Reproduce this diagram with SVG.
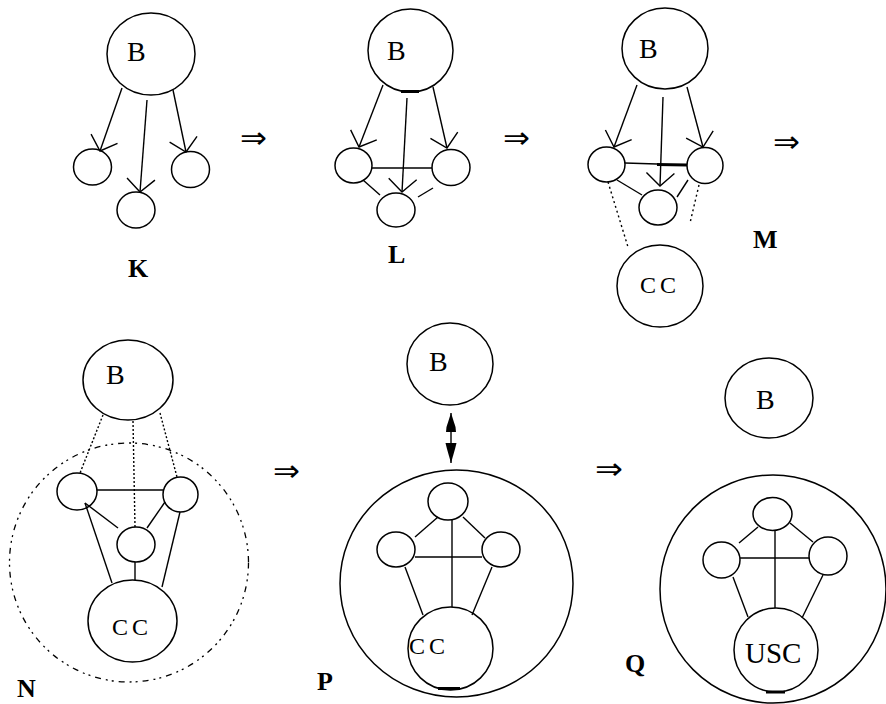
<svg xmlns="http://www.w3.org/2000/svg" width="886" height="704" viewBox="0 0 886 704">
  <style>
    .node { fill: none; stroke: #000; stroke-width: 1.5; }
    .edge { fill: none; stroke: #000; stroke-width: 1.4; }
    .heavy { fill: none; stroke: #000; stroke-width: 3; }
    .dot { fill: none; stroke: #000; stroke-width: 1.4; stroke-dasharray: 2 3; }
    .dashdot { fill: none; stroke: #000; stroke-width: 1.3; stroke-dasharray: 6 5 2 4 2 5; }
    .name { font-family: "Liberation Serif", "Times New Roman", serif; font-size: 28px; fill: #000; }
    .pair { font-size: 24px; letter-spacing: 4px; }
    .panel { font-family: "Liberation Serif", "Times New Roman", serif; font-size: 26px; font-weight: bold; fill: #000; }
    .step { font-family: "DejaVu Sans", sans-serif; font-size: 30px; fill: #000; }
  </style>
  <defs>
    <marker id="vee" viewBox="-15 -16 17 32" markerWidth="17" markerHeight="32" refX="0" refY="0" orient="auto" markerUnits="userSpaceOnUse">
      <path d="M -13,-14 L 0,0 L -13,14" fill="none" stroke="#000" stroke-width="1.4"/>
    </marker>
  </defs>

  <!-- ===== K ===== -->
  <g id="k-B"><ellipse class="node" cx="151" cy="54" rx="44" ry="41"/><text class="name" x="127" y="61">B</text></g>
  <g id="k-v1"><ellipse class="node" cx="92.5" cy="167" rx="19" ry="18"/></g>
  <g id="k-v2"><ellipse class="node" cx="190.5" cy="169.5" rx="19" ry="18"/></g>
  <g id="k-v3"><ellipse class="node" cx="136" cy="210" rx="19" ry="18"/></g>
  <text id="k-label" class="panel" x="128" y="277">K</text>

  <!-- ===== L ===== -->
  <g id="l-B"><ellipse class="node" cx="410.5" cy="50.5" rx="42.5" ry="41.5"/><text class="name" x="387" y="60">B</text>
    <line class="heavy" x1="401" y1="91.5" x2="419" y2="91.5"/></g>
  <g id="l-v1"><ellipse class="node" cx="353.5" cy="165.5" rx="18.5" ry="17.5"/></g>
  <g id="l-v2"><ellipse class="node" cx="451" cy="167.5" rx="19" ry="18"/></g>
  <g id="l-v3"><ellipse class="node" cx="396" cy="210" rx="19" ry="17"/></g>
  <text id="l-label" class="panel" x="388" y="263">L</text>

  <!-- ===== M ===== -->
  <g id="m-B"><ellipse class="node" cx="665" cy="48.5" rx="43" ry="40.5"/><text class="name" x="639" y="58">B</text></g>
  <g id="m-v1"><ellipse class="node" cx="606.5" cy="164.5" rx="18.5" ry="17.5"/></g>
  <g id="m-v2"><ellipse class="node" cx="705" cy="165.5" rx="18" ry="18"/></g>
  <g id="m-v3"><ellipse class="node" cx="658" cy="207.5" rx="19" ry="17.5"/></g>
  <g id="m-CC"><ellipse class="node" cx="660" cy="286" rx="43" ry="41"/><text class="name pair" x="640" y="293">CC</text></g>
  <text id="m-label" class="panel" x="753" y="248">M</text>

  <!-- ===== N ===== -->
  <g id="n-cluster"><circle class="dashdot" cx="129" cy="562.5" r="119.5"/></g>
  <g id="n-B"><ellipse class="node" cx="128" cy="380" rx="45" ry="40"/><text class="name" x="106" y="384">B</text></g>
  <g id="n-v1"><ellipse class="node" cx="77" cy="491.5" rx="20" ry="18.5"/></g>
  <g id="n-v2"><ellipse class="node" cx="180.5" cy="494.5" rx="17.5" ry="17.5"/></g>
  <g id="n-v3"><ellipse class="node" cx="136" cy="544.5" rx="19" ry="17.5"/></g>
  <g id="n-CC"><ellipse class="node" cx="132.5" cy="621" rx="44.5" ry="41"/><text class="name pair" x="112" y="635">CC</text></g>
  <text id="n-label" class="panel" x="17" y="697">N</text>

  <!-- ===== P ===== -->
  <g id="p-B"><ellipse class="node" cx="450" cy="364" rx="43" ry="41"/><text class="name" x="429" y="371">B</text></g>
  <g id="p-cluster"><ellipse class="node" cx="456.5" cy="583.5" rx="116.5" ry="113.5"/>
    <line class="heavy" x1="438" y1="688.5" x2="460" y2="688.5"/></g>
  <g id="p-v1"><ellipse class="node" cx="448" cy="501.5" rx="20" ry="18.5"/></g>
  <g id="p-v2"><ellipse class="node" cx="396" cy="549.5" rx="19" ry="17.5"/></g>
  <g id="p-v3"><ellipse class="node" cx="501" cy="549.5" rx="19" ry="17.5"/></g>
  <g id="p-CC"><ellipse class="node" cx="450.5" cy="648.5" rx="42.5" ry="41.5"/><text class="name pair" x="409" y="654">CC</text></g>
  <text id="p-label" class="panel" x="317" y="690">P</text>

  <!-- ===== Q ===== -->
  <g id="q-B"><ellipse class="node" cx="769" cy="398" rx="44" ry="40"/><text class="name" x="756" y="409">B</text></g>
  <g id="q-cluster"><ellipse class="node" cx="773" cy="589" rx="113" ry="114"/></g>
  <g id="q-v1"><ellipse class="node" cx="772.5" cy="514" rx="19.5" ry="16.5"/></g>
  <g id="q-v2"><ellipse class="node" cx="721.5" cy="560" rx="18.5" ry="18"/></g>
  <g id="q-v3"><ellipse class="node" cx="828" cy="556" rx="19" ry="19"/></g>
  <g id="q-USC"><ellipse class="node" cx="776" cy="650" rx="42" ry="42"/><text class="name" x="745" y="663" style="font-size:29px">USC</text>
    <line class="heavy" x1="766" y1="692" x2="785" y2="692"/></g>
  <text id="q-label" class="panel" x="625" y="672">Q</text>

  <!-- step arrows between stages -->
  <g id="steps">
    <text class="step" x="240" y="148" textLength="27" lengthAdjust="spacingAndGlyphs">⇒</text>
    <text class="step" x="503" y="148" textLength="27" lengthAdjust="spacingAndGlyphs">⇒</text>
    <text class="step" x="773" y="152" textLength="27" lengthAdjust="spacingAndGlyphs">⇒</text>
    <text class="step" x="273" y="481" textLength="27" lengthAdjust="spacingAndGlyphs">⇒</text>
    <text class="step" x="595" y="479" textLength="28" lengthAdjust="spacingAndGlyphs">⇒</text>
  </g>

  <g id="connectors">
    <!-- K -->
    <line class="edge" x1="122" y1="88" x2="100" y2="151" marker-end="url(#vee)"/>
    <line class="edge" x1="147" y1="100" x2="140" y2="192" marker-end="url(#vee)"/>
    <line class="edge" x1="173" y1="90" x2="186" y2="152" marker-end="url(#vee)"/>
    <!-- L -->
    <line class="edge" x1="383" y1="85" x2="359" y2="147" marker-end="url(#vee)"/>
    <line class="edge" x1="407" y1="98" x2="402" y2="192" marker-end="url(#vee)"/>
    <line class="edge" x1="433" y1="87" x2="447" y2="148" marker-end="url(#vee)"/>
    <line class="edge" x1="372" y1="168" x2="432" y2="168"/>
    <line class="edge" x1="363" y1="180" x2="380" y2="195"/>
    <line class="edge" x1="433" y1="188" x2="418" y2="197"/>
    <!-- M -->
    <line class="edge" x1="637" y1="85" x2="614" y2="147" marker-end="url(#vee)"/>
    <line class="edge" x1="663" y1="97" x2="660" y2="186" marker-end="url(#vee)"/>
    <line class="edge" x1="687" y1="87" x2="703" y2="147" marker-end="url(#vee)"/>
    <line class="edge" x1="625" y1="163" x2="657" y2="164"/>
    <line class="heavy" x1="657" y1="164.5" x2="687" y2="165"/>
    <line class="edge" x1="617" y1="180" x2="642" y2="195"/>
    <line class="edge" x1="688" y1="180" x2="677" y2="197"/>
    <line class="dot" x1="608" y1="182" x2="628" y2="247"/>
    <line class="dot" x1="699" y1="185" x2="690" y2="223"/>
    <!-- N -->
    <line class="dot" x1="103" y1="415" x2="80" y2="473" style="stroke-dasharray:2 2"/>
    <line class="dot" x1="133" y1="421" x2="135" y2="527" style="stroke-dasharray:2 2"/>
    <line class="dot" x1="160" y1="413" x2="177" y2="477" style="stroke-dasharray:2 2"/>
    <line class="edge" x1="97" y1="490" x2="163" y2="490"/>
    <line class="edge" x1="85" y1="503" x2="118" y2="528"/>
    <line class="edge" x1="165" y1="502" x2="147" y2="528"/>
    <line class="edge" x1="85" y1="503" x2="112" y2="583"/>
    <line class="edge" x1="180" y1="512" x2="162" y2="587"/>
    <line class="edge" x1="135" y1="562" x2="135" y2="580"/>
    <!-- P -->
    <line class="edge" x1="451" y1="413" x2="451" y2="463"/>
    <path d="M 451,413 L 455.5,427 L 456,432 L 446,432 L 446.5,427 Z" fill="#000"/>
    <path d="M 445.5,443 L 456.5,443 L 455,449 L 451,463 L 447,449 Z" fill="#000"/>
    <line class="edge" x1="452" y1="520" x2="452" y2="607"/>
    <line class="edge" x1="415" y1="557" x2="482" y2="557"/>
    <line class="edge" x1="438" y1="517" x2="415" y2="537"/>
    <line class="edge" x1="463" y1="517" x2="485" y2="538"/>
    <line class="edge" x1="405" y1="567" x2="423" y2="615"/>
    <line class="edge" x1="492" y1="567" x2="472" y2="615"/>
    <!-- Q -->
    <line class="edge" x1="775" y1="530" x2="775" y2="608"/>
    <line class="edge" x1="740" y1="558" x2="809" y2="558"/>
    <line class="edge" x1="758" y1="527" x2="739" y2="543"/>
    <line class="edge" x1="790" y1="523" x2="813" y2="542"/>
    <line class="edge" x1="733" y1="577" x2="748" y2="617"/>
    <line class="edge" x1="823" y1="575" x2="802" y2="618"/>
  </g>
</svg>
